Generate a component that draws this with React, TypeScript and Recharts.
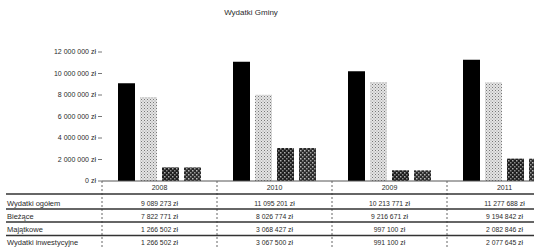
import React from 'react';
import { BarChart, Bar, XAxis, YAxis } from 'recharts';

const categories = ['2008', '2010', '2009', '2011'];
const ogolem = [9089273, 11095201, 10213771, 11277688];
const biezace = [7822771, 8026774, 9216671, 9194842];
const majatkowe = [1266502, 3068427, 997100, 2082846];
const inwestycyjne = [1266502, 3067500, 991100, 2077645];
const yTicks = [0, 2000000, 4000000, 6000000, 8000000, 10000000, 12000000];
const rowLabels = ['Wydatki ogółem', 'Bieżące', 'Majątkowe', 'Wydatki inwestycyjne'];
const title = 'Wydatki Gminy';

const series = [ogolem, biezace, majatkowe, inwestycyjne];
const data = categories.map((c, i) => ({
  name: c,
  ogolem: ogolem[i],
  biezace: biezace[i],
  majatkowe: majatkowe[i],
  inwestycyjne: inwestycyjne[i],
}));

const fmt = (n: number) => String(n).replace(/\B(?=(\d{3})+(?!\d))/g, ' ') + ' zł';

const FONT = '"Liberation Sans", Arial, sans-serif';
const TEXT = '#2a2a2a';
const rowBase = [205.5, 218.5, 231.5, 244.5];
const lineYs = [194, 209, 222, 235.5];
const CAT_W = 115;

const TableTick = (props: any) => {
  const { x, payload, index } = props;
  return (
    <g>
      <line x1={x + CAT_W / 2} x2={x + CAT_W / 2} y1={181} y2={249} stroke="#666" strokeDasharray="2 2" />
      {index === 0 && (
        <line x1={x - CAT_W / 2} x2={x - CAT_W / 2} y1={181} y2={249} stroke="#666" strokeDasharray="2 2" />
      )}
      <text x={x} y={189.5} textAnchor="middle" fontSize={7} fontFamily={FONT} fill={TEXT}>
        {payload.value}
      </text>
      {series.map((s, r) => (
        <text key={r} x={x} y={rowBase[r]} textAnchor="middle" fontSize={6.8} fontFamily={FONT} fill={TEXT}>
          {fmt(s[index])}
        </text>
      ))}
    </g>
  );
};

export default function App() {
  return (
    <div style={{ position: 'absolute', left: 0, top: 0, width: 534, height: 249, overflow: 'hidden', background: '#fff' }}>
      <div
        style={{
          position: 'absolute', left: 0, width: 534, top: 8, textAlign: 'center', fontFamily: FONT,
          fontSize: 8, color: TEXT, paddingLeft: -32, transform: 'translateX(-16px)',
        }}
      >
        {title}
      </div>
      <BarChart
        width={570}
        height={249}
        data={data}
        margin={{ top: 52, right: 8, left: 0, bottom: 0 }}
        barSize={17}
        barGap={5}
        style={{ position: 'absolute', left: 0, top: 0 }}
      >
        <defs>
          <pattern id="dots" width="3" height="3" patternUnits="userSpaceOnUse">
            <rect width="3" height="3" fill="#e4e4e4" />
            <rect x="0" y="0" width="1" height="1" fill="#777" />
            <rect x="1.5" y="1.5" width="1" height="1" fill="#999" />
          </pattern>
          <pattern id="checker" width="4" height="4" patternUnits="userSpaceOnUse">
            <rect width="4" height="4" fill="#1e1e1e" />
            <rect x="0" y="0" width="1.5" height="1.5" fill="#aaa" />
            <rect x="2" y="2" width="1.5" height="1.5" fill="#888" />
          </pattern>
          <pattern id="checker2" width="4" height="4" patternUnits="userSpaceOnUse">
            <rect width="4" height="4" fill="#2a2a2a" />
            <rect x="2" y="0" width="1.5" height="1.5" fill="#999" />
            <rect x="0" y="2" width="1.5" height="1.5" fill="#bbb" />
          </pattern>
        </defs>
        <XAxis
          dataKey="name"
          height={68}
          axisLine={{ stroke: '#555' }}
          tickLine={false}
          interval={0}
          tick={<TableTick />}
        />
        <YAxis
          width={102}
          domain={[0, 12000000]}
          ticks={yTicks}
          axisLine={false}
          tickLine={{ stroke: '#777' }}
          tickSize={4}
          tickMargin={2}
          tickFormatter={fmt}
          tick={{ fontSize: 7, fontFamily: FONT, fill: TEXT }}
        />
        <Bar dataKey="ogolem" fill="#000" isAnimationActive={false} />
        <Bar dataKey="biezace" fill="url(#dots)" isAnimationActive={false} />
        <Bar dataKey="majatkowe" fill="url(#checker)" isAnimationActive={false} />
        <Bar dataKey="inwestycyjne" fill="url(#checker2)" isAnimationActive={false} />
      </BarChart>
      <svg width={534} height={249} style={{ position: 'absolute', left: 0, top: 0, pointerEvents: 'none' }}>
        {lineYs.map((y, i) => (
          <line key={i} x1={6} x2={534} y1={y} y2={y} stroke="#333" strokeWidth={1.3} />
        ))}
        {rowLabels.map((l, i) => (
          <text key={i} x={7} y={rowBase[i]} fontSize={7.5} fontFamily={FONT} fill={TEXT}>
            {l}
          </text>
        ))}
      </svg>
    </div>
  );
}
